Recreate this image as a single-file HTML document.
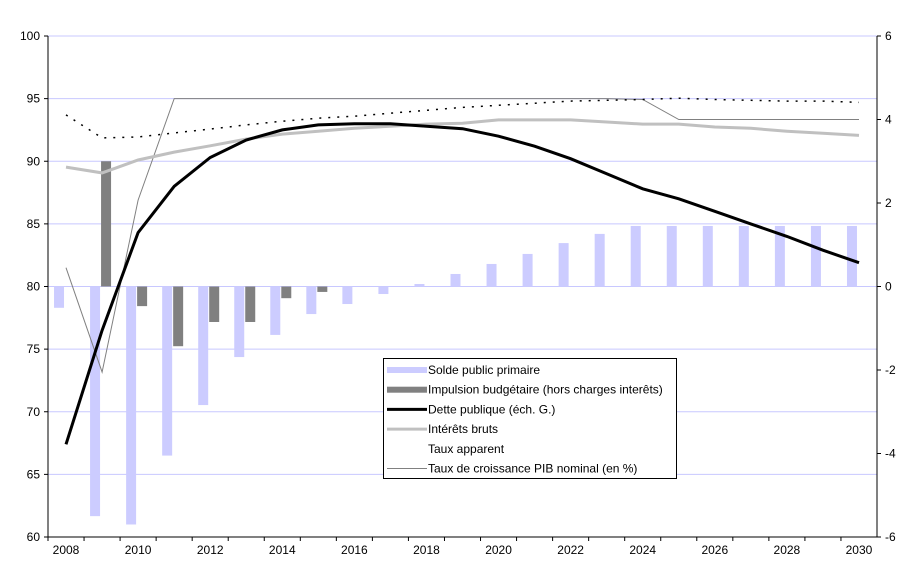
<!DOCTYPE html>
<html><head><meta charset="utf-8">
<style>
body{margin:0;background:#fff;width:916px;height:570px;overflow:hidden;font-family:"Liberation Sans",sans-serif}
svg text{font-family:"Liberation Sans",sans-serif;font-size:12px;fill:#000}
</style></head><body>
<svg id="chart" width="916" height="570"></svg>
<script>
const years=[2008,2009,2010,2011,2012,2013,2014,2015,2016,2017,2018,2019,2020,2021,2022,2023,2024,2025,2026,2027,2028,2029,2030];
const solde=[-0.51,-5.5,-5.7,-4.05,-2.84,-1.69,-1.16,-0.66,-0.42,-0.18,0.06,0.3,0.54,0.78,1.04,1.26,1.45,1.45,1.45,1.45,1.45,1.45,1.45];
const impulsion=[null,3.0,-0.47,-1.43,-0.85,-0.85,-0.28,-0.13,null,null,null,null,null,null,null,null,null,null,null,null,null,null,null];
const dette=[67.4,76.5,84.3,88,90.3,91.7,92.5,92.9,93,93,92.8,92.6,92,91.2,90.2,89,87.8,87,86,85,84,82.9,81.9];
const interets=[2.86,2.72,3.03,3.22,3.37,3.53,3.65,3.72,3.79,3.84,3.89,3.91,3.99,3.99,3.99,3.94,3.89,3.89,3.82,3.79,3.72,3.67,3.62];
const tauxApp=[4.11,3.56,3.58,3.68,3.77,3.87,3.96,4.03,4.08,4.15,4.22,4.29,4.34,4.39,4.44,4.46,4.48,4.51,4.48,4.46,4.44,4.44,4.41];
const croissance=[0.45,-2.05,2.07,4.5,4.5,4.5,4.5,4.5,4.5,4.5,4.5,4.5,4.5,4.5,4.5,4.5,4.48,4.0,4.0,4.0,4.0,4.0,4.0];
const leftTicks=[60,65,70,75,80,85,90,95,100];
const rightTicks=[-6,-4,-2,0,2,4,6];
const xLabels=[2008,2010,2012,2014,2016,2018,2020,2022,2024,2026,2028,2030];

const NS="http://www.w3.org/2000/svg";
const svg=document.getElementById('chart');
const X0=48,X1=877,Y0=36,Y1=537;
const bw=(X1-X0)/years.length;
const xc=i=>X0+bw*(i+0.5);
const yL=v=>Y1-(v-60)/40*(Y1-Y0);
const yR=v=>Y1-(v+6)/12*(Y1-Y0);
function mk(tag,attrs,parent){const e=document.createElementNS(NS,tag);for(const k in attrs)e.setAttribute(k,attrs[k]);(parent||svg).appendChild(e);return e;}

// gridlines
leftTicks.forEach(v=>{
  if(v===60)return;
  const g=mk('line',{x1:X0,x2:X1,y1:yL(v),y2:yL(v),stroke:'#c8c8ff','stroke-width':1});
  
  
});
// bars
solde.forEach((v,i)=>{
  const y=Math.min(yR(0),yR(v)),h=Math.abs(yR(v)-yR(0));
  const r=mk('rect',{x:xc(i)-12,y:y,width:10,height:h,fill:'#ccccff'});
  
  
});
impulsion.forEach((v,i)=>{
  if(v===null)return;
  const y=Math.min(yR(0),yR(v)),h=Math.abs(yR(v)-yR(0));
  const r=mk('rect',{x:xc(i)-1,y:y,width:10,height:h,fill:'#808080'});
  
  
});
function line(vals,fy,attrs,name){
  const d=vals.map((v,i)=>(i?'L':'M')+xc(i).toFixed(1)+' '+fy(v).toFixed(1)).join(' ');
  const p=mk('path',Object.assign({d:d,fill:'none'},attrs));
  
  
}
line(croissance,yR,{stroke:'#808080','stroke-width':1},'line-croissance');
line(interets,yR,{stroke:'#c0c0c0','stroke-width':3},'line-interets');
line(tauxApp,yR,{stroke:'#000','stroke-width':1.5,'stroke-dasharray':'2,7'},'line-taux-apparent');
line(dette,yL,{stroke:'#000','stroke-width':3},'line-dette');

// axes
const ax=mk('g',{});


mk('line',{x1:X0,x2:X0,y1:Y0,y2:Y1,stroke:'#000'},ax);
mk('line',{x1:X1,x2:X1,y1:Y0,y2:Y1,stroke:'#000'},ax);
mk('line',{x1:X0,x2:X1,y1:Y1,y2:Y1,stroke:'#000'},ax);
leftTicks.forEach(v=>{
  mk('line',{x1:X0-4,x2:X0,y1:yL(v),y2:yL(v),stroke:'#000'},ax);
  const t=mk('text',{x:X0-8,y:yL(v)+4,'text-anchor':'end'},ax);t.textContent=v;
  
  
});
rightTicks.forEach(v=>{
  mk('line',{x1:X1,x2:X1+4,y1:yR(v),y2:yR(v),stroke:'#000'},ax);
  const t=mk('text',{x:X1+8,y:yR(v)+4,'text-anchor':'start'},ax);t.textContent=v;
  
  
});
years.forEach((y,i)=>{mk('line',{x1:X0+bw*i,x2:X0+bw*i,y1:Y1,y2:Y1+4,stroke:'#000'},ax);});
xLabels.forEach(y=>{
  const i=years.indexOf(y);
  const t=mk('text',{x:xc(i),y:Y1+17,'text-anchor':'middle'},ax);t.textContent=y;
  
  
});

// legend
const lg=mk('g',{});


mk('rect',{x:383.5,y:358.5,width:293,height:120,fill:'#fff',stroke:'#000'},lg);
const entries=[
 ['Solde public primaire','rect','#ccccff'],
 ['Impulsion budgétaire (hors charges interêts)','rect','#808080'],
 ['Dette publique (éch. G.)','line','#000',3],
 ['Intérêts bruts','line','#c0c0c0',3],
 ['Taux apparent','none'],
 ['Taux de croissance PIB nominal (en %)','line','#808080',1]];
entries.forEach((e,k)=>{
  const y=370+k*19.7;
  if(e[1]==='rect')mk('rect',{x:387,y:y-3,width:40,height:6,fill:e[2]},lg);
  if(e[1]==='line')mk('line',{x1:387,x2:427,y1:y,y2:y,stroke:e[2],'stroke-width':e[3]},lg);
  const t=mk('text',{x:428,y:y+4},lg);t.textContent=e[0];
  
  
});
</script>
</body></html>
